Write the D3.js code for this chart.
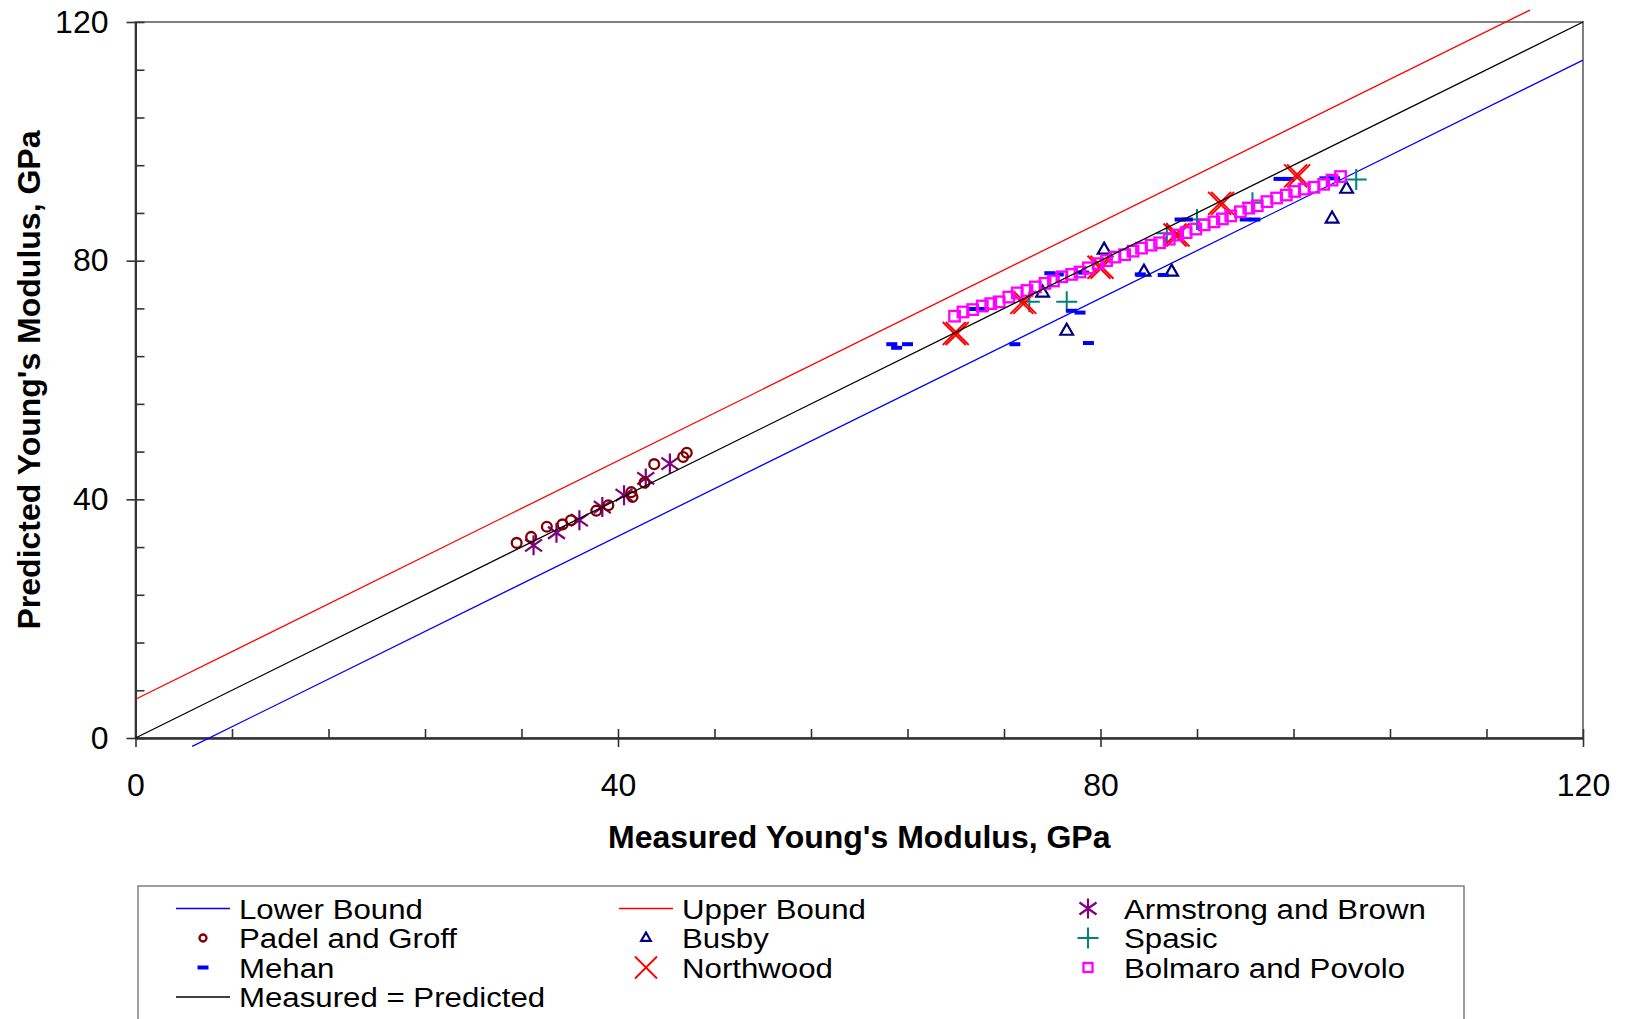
<!DOCTYPE html>
<html>
<head>
	<script src="https://d3js.org/d3.v7.min.js"></script>
	<meta charset="UTF-8">
	<style>
		body{ margin:0; background-color:#ffffff; }
		text{ font-family:"Liberation Sans", Arial, sans-serif; }
	</style>
</head>
<body>
	<div class="chart"></div>
	<script type="text/javascript">
		// reference lines
		var lowerBound = [[4.7, -1.4], [120, 113.6]];
		var upperBound = [[0, 6.5], [115.6, 122.0]];
		var equality = [[0, 0], [120, 120]];

		// measured / predicted pairs per study
		var armstrong = [[33.0,32.3],[34.9,34.4],[36.8,36.5],[38.7,38.7],[40.5,40.7],[42.3,43.5],[44.3,46.0]];
		var padel = [[31.6,32.7],[32.8,33.7],[34.1,35.4],[35.4,35.8],[36.1,36.5],[38.2,38.1],[39.2,39.0],
			[41.1,41.2],[41.2,40.4],[42.2,42.8],[43.0,45.9],[45.4,47.1],[45.7,47.8]];
		var busby = [[77.2,68.2],[75.2,74.6],[80.3,81.8],[83.6,78.1],[85.9,78.1],[99.2,87.0],[100.4,92.0]];
		var spasic = [[74.1,73.1],[77.2,73.1],[85.5,84.6],[88.0,86.9],[92.6,89.7],[101.2,93.6]];
		var mehan = [[62.7,66.0],[63.1,65.4],[64.0,66.0],[72.9,66.0],[79.0,66.2],[69.5,71.9],[70.3,71.9],
			[77.6,71.6],[78.3,71.3],[75.8,77.9],[76.5,77.7],[78.6,78.0],[83.3,77.7],[85.2,77.6],
			[86.6,86.9],[87.2,86.9],[92.0,86.9],[92.8,86.9],[94.8,93.7],[95.6,93.7],[98.6,93.8],[99.4,93.8]];
		var northwood = [[68.0,67.8],[73.6,73.0],[80.0,78.9],[86.3,84.3],[90.0,89.6],[96.3,94.2]];
		var bolmaroX = [67.9,68.6,69.4,70.2,70.9,71.6,72.4,73.1,73.9,74.6,75.4,76.1,76.8,77.6,78.3,79.0,
			79.8,80.5,81.2,82.0,82.7,83.4,84.2,84.9,85.7,86.4,87.1,87.9,88.6,89.4,90.1,90.8,91.6,92.3,
			93.0,93.8,94.6,95.4,96.1,96.9,97.7,98.5,99.2,99.9];
		var bolmaroY = [70.7,71.4,71.8,72.4,72.8,73.1,73.9,74.6,75.0,75.6,76.2,76.6,77.3,77.7,78.1,78.8,
			79.5,80.0,80.6,81.0,81.6,82.1,82.6,83.0,83.6,84.3,84.7,85.3,86.0,86.5,87.0,87.5,88.2,88.8,
			89.2,89.9,90.5,91.0,91.6,92.0,92.3,92.8,93.5,94.1];

		var majorTicks = [0, 40, 80, 120];
		var minorTicks = d3.range(0, 121, 8);

		var W = 1625, H = 1019;
		var x0 = 135.5, x1 = 1583, yTop = 22, yBot = 738;

		var svg = d3.select("div.chart").append("svg")
					.attr("width", W).attr("height", H);

		var xScale = d3.scaleLinear().domain([0, 120]).range([x0, x1]);
		var yScale = d3.scaleLinear().domain([0, 120]).range([yBot, yTop]);

		//frame (top + right)
		svg.append("rect").attr("x", x0).attr("y", yTop).attr("width", x1 - x0).attr("height", yBot - yTop)
		   .attr("fill", "none").attr("stroke", "#808080").attr("stroke-width", 2);

		//axes
		var xMinor = d3.axisBottom(xScale).tickValues(minorTicks).tickSizeInner(-9).tickSizeOuter(0).tickFormat("");
		var xMajor = d3.axisBottom(xScale).tickValues(majorTicks).tickSizeInner(9).tickSizeOuter(0).tickPadding(26);
		var yMinor = d3.axisLeft(yScale).tickValues(minorTicks).tickSizeInner(-9).tickSizeOuter(0).tickFormat("");
		var yMajor = d3.axisLeft(yScale).tickValues(majorTicks).tickSizeInner(9).tickSizeOuter(0).tickPadding(18);

		[xMinor, xMajor].forEach(function(a) {
			svg.append("g").attr("class", "axis").attr("transform", "translate(0," + yBot + ")").call(a);
		});
		[yMinor, yMajor].forEach(function(a) {
			svg.append("g").attr("class", "axis").attr("transform", "translate(" + x0 + ",0)").call(a);
		});
		svg.selectAll(".axis path").attr("stroke", "#333").attr("stroke-width", 2);
		svg.selectAll(".axis line").attr("stroke", "#333").attr("stroke-width", 1.6);
		svg.selectAll(".axis text").attr("font-size", "32px").attr("fill", "#000")
		   .style("font-family", "'Liberation Sans', Arial, sans-serif");

		//axis titles
		svg.append("text").attr("x", (x0 + x1) / 2).attr("y", 848).attr("text-anchor", "middle")
		   .attr("font-size", "32px").attr("font-weight", "bold").text("Measured Young's Modulus, GPa");
		svg.append("text").attr("transform", "translate(40," + ((yTop + yBot) / 2) + ") rotate(-90)")
		   .attr("text-anchor", "middle").attr("font-size", "32px").attr("font-weight", "bold")
		   .text("Predicted Young's Modulus, GPa");

		//marker painters
		function circle(g, r) {
			g.append("circle").attr("r", r).attr("fill", "none").attr("stroke", "#800000").attr("stroke-width", 2.3);
		}
		function triangle(g, s) {
			g.append("path").attr("d", d3.symbol().type(d3.symbolTriangle).size(s))
			 .attr("fill", "none").attr("stroke", "#000080").attr("stroke-width", 2.2);
		}
		function square(g, s) {
			g.append("rect").attr("x", -s / 2).attr("y", -s / 2).attr("width", s).attr("height", s)
			 .attr("fill", "none").attr("stroke", "#FF00FF").attr("stroke-width", 2.3);
		}
		function dash(g) {
			g.append("rect").attr("x", -5.5).attr("y", -2).attr("width", 11).attr("height", 4).attr("fill", "#0000FF");
		}
		function plus(g, h) {
			g.append("path").attr("d", "M" + (-h) + ",0H" + h + "M0," + (-h) + "V" + h)
			 .attr("stroke", "#008080").attr("stroke-width", 2).attr("fill", "none");
		}
		function cross(g, h, dbl) {
			var offs = dbl ? [-1.5, 1.5] : [0];
			offs.forEach(function(o) {
				g.append("path").attr("d", "M" + (o - h) + "," + (-h) + "L" + (o + h) + "," + h +
					"M" + (o - h) + "," + h + "L" + (o + h) + "," + (-h))
				 .attr("stroke", "#FF0000").attr("stroke-width", 1.9).attr("fill", "none");
			});
		}
		function asterisk(g, h) {
			var w = h * 0.85;
			g.append("path").attr("d", "M0," + (-h) + "V" + h + "M" + (-w) + "," + (-h * 0.6) + "L" + w + "," + (h * 0.6) +
				"M" + (-w) + "," + (h * 0.6) + "L" + w + "," + (-h * 0.6))
			 .attr("stroke", "#800080").attr("stroke-width", 2.2).attr("fill", "none");
		}

		var line = d3.line().x(function(d) { return xScale(d[0]); }).y(function(d) { return yScale(d[1]); });

		function drawLine(data, col) {
			svg.append("path").datum(data).attr("d", line).attr("fill", "none")
			   .attr("stroke", col).attr("stroke-width", 1.3);
		}
		function drawPoints(data, painter) {
			svg.append("g").selectAll("g").data(data).enter().append("g")
			   .attr("transform", function(d) { return "translate(" + xScale(d[0]) + "," + yScale(d[1]) + ")"; })
			   .each(function() { painter(d3.select(this)); });
		}

		drawLine(lowerBound, "#0000FF");
		drawLine(upperBound, "#FF0000");
		drawPoints(armstrong, function(g) { asterisk(g, 10); });
		drawPoints(padel, function(g) { circle(g, 4.9); });
		drawPoints(busby, function(g) { triangle(g, 70); });
		drawPoints(spasic, function(g) { plus(g, 10.5); });
		drawPoints(mehan, dash);
		drawPoints(northwood, function(g) { cross(g, 11.5, true); });
		var bolmaro = bolmaroX.map(function(v, i) { return [v, bolmaroY[i]]; });
		drawPoints(bolmaro, function(g) { square(g, 10.5); });
		drawLine(equality, "#000000");

		//legend
		svg.append("rect").attr("x", 138).attr("y", 886).attr("width", 1326).attr("height", 200)
		   .attr("fill", "none").attr("stroke", "#808080").attr("stroke-width", 1.5);

		var legendItems = [
			{name: "Lower Bound", col: 0, row: 0, kind: "line", color: "#0000FF"},
			{name: "Upper Bound", col: 1, row: 0, kind: "line", color: "#FF0000"},
			{name: "Armstrong and Brown", col: 2, row: 0, kind: "asterisk"},
			{name: "Padel and Groff", col: 0, row: 1, kind: "circle"},
			{name: "Busby", col: 1, row: 1, kind: "triangle"},
			{name: "Spasic", col: 2, row: 1, kind: "plus"},
			{name: "Mehan", col: 0, row: 2, kind: "dash"},
			{name: "Northwood", col: 1, row: 2, kind: "cross"},
			{name: "Bolmaro and Povolo", col: 2, row: 2, kind: "square"},
			{name: "Measured = Predicted", col: 0, row: 3, kind: "line", color: "#000000"}
		];
		var colText = [239, 682, 1124];
		var rowY = [908.5, 938, 967.5, 997];

		legendItems.forEach(function(it) {
			var tx = colText[it.col], ty = rowY[it.row];
			var sx = tx - 36;
			var g = svg.append("g").attr("transform", "translate(" + sx + "," + ty + ")");
			if (it.kind === "line") {
				g.append("line").attr("x1", -27).attr("x2", 27).attr("y1", 0).attr("y2", 0)
				 .attr("stroke", it.color).attr("stroke-width", 1.3);
			} else if (it.kind === "asterisk") asterisk(g, 10);
			else if (it.kind === "circle") circle(g, 3.5);
			else if (it.kind === "triangle") triangle(g, 40);
			else if (it.kind === "plus") plus(g, 10.5);
			else if (it.kind === "dash") dash(g);
			else if (it.kind === "cross") cross(g, 11, false);
			else if (it.kind === "square") square(g, 9);
			svg.append("text").attr("transform", "translate(" + tx + "," + (ty + 10) + ") scale(1.115,1)")
			   .attr("font-size", "28px").attr("fill", "#000").text(it.name);
		});
	</script>
</body>
</html>
